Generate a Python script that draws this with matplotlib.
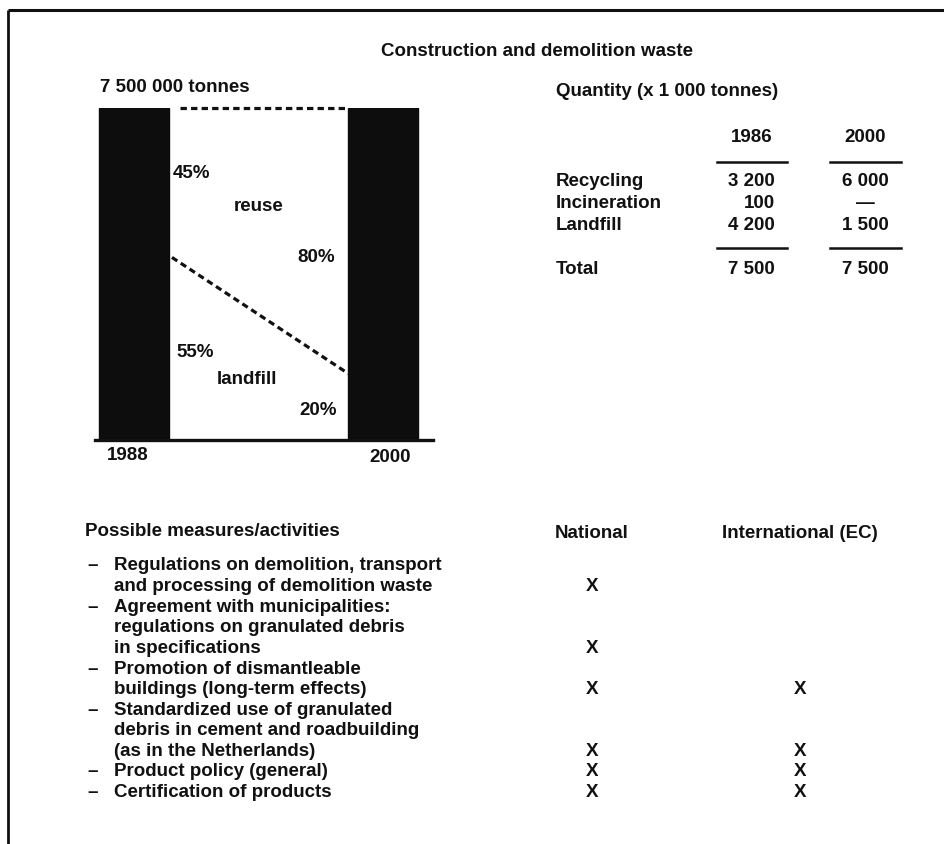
"""Construction and demolition waste: scanned report figure recreated."""
import matplotlib
matplotlib.use("Agg")
import matplotlib.pyplot as plt

plt.rcParams["font.family"] = ["Liberation Sans", "DejaVu Sans"]
plt.rcParams["font.size"] = 13.5
plt.rcParams["font.weight"] = "bold"

# --- data -----------------------------------------------------------------
years = ["1988", "2000"]
reuse_pct = [45, 80]
landfill_pct = [55, 20]
total_label = "7 500 000 tonnes"

table_years = ["1986", "2000"]
table_rows = ["Recycling", "Incineration", "Landfill"]
table_1986 = ["3 200", "100", "4 200"]
table_2000 = ["6 000", "\u2014", "1 500"]
table_total = ["7 500", "7 500"]

measures = [
    ["Regulations on demolition, transport", "and processing of demolition waste"],
    ["Agreement with municipalities:", "regulations on granulated debris", "in specifications"],
    ["Promotion of dismantleable", "buildings (long-term effects)"],
    ["Standardized use of granulated", "debris in cement and roadbuilding",
     "(as in the Netherlands)"],
    ["Product policy (general)"],
    ["Certification of products"],
]
national = [True, True, True, True, True, True]
international = [False, False, True, True, True, True]

W, H = 944, 844
fig = plt.figure(figsize=(W / 100, H / 100), dpi=100)
fig.patch.set_facecolor("white")

# page axes in pixel coordinates for the text blocks
page = fig.add_axes([0, 0, 1, 1])
page.set_xlim(0, W)
page.set_ylim(H, 0)
page.axis("off")

ink = "#111111"

# frame (top and left edges visible in the scan)
page.plot([8, W], [10, 10], color=ink, lw=2.2, solid_capstyle="butt")
page.plot([8, 8], [10, H], color=ink, lw=2.0, solid_capstyle="butt")

page.text(537, 52, "Construction and demolition waste", ha="center", va="center", color=ink)
page.text(100, 88, total_label, ha="left", va="center", color=ink)

# --- bar chart ------------------------------------------------------------
x0, x1, ytop, ybot = 95, 433, 108, 440
ax = fig.add_axes([x0 / W, (H - ybot) / H, (x1 - x0) / W, (ybot - ytop) / H])
xs = [0, 1]
width = 0.28
totals = [r + l for r, l in zip(reuse_pct, landfill_pct)]
ax.bar(xs, totals, width=width, color="#0d0d0d", edgecolor="#0d0d0d")
ax.set_xlim(-0.157, 1.20)
ax.set_ylim(0, 100)
for s in ["top", "left", "right"]:
    ax.spines[s].set_visible(False)
ax.spines["bottom"].set_linewidth(2.4)
ax.spines["bottom"].set_color(ink)
ax.set_xticks([])
ax.set_yticks([])
ax.patch.set_alpha(0)

right_a = xs[0] + width / 2
left_b = xs[1] - width / 2
dash = (0, (2.0, 1.3))
ax.plot([right_a + 0.045, left_b - 0.015], [totals[0], totals[1]],
        color=ink, lw=2.3, linestyle=dash, clip_on=False)
ax.plot([right_a + 0.012, left_b], [landfill_pct[0], landfill_pct[1]],
        color=ink, lw=2.3, linestyle=dash, clip_on=False)

ax.text(0.157, 80.4, f"{reuse_pct[0]}%", ha="left", va="center", color=ink)
ax.text(0.498, 70.2, "reuse", ha="center", va="center", color=ink)
ax.text(0.655, 55.1, f"{reuse_pct[1]}%", ha="left", va="center", color=ink)
ax.text(0.169, 26.5, f"{landfill_pct[0]}%", ha="left", va="center", color=ink)
ax.text(0.333, 18.1, "landfill", ha="left", va="center", color=ink)
ax.text(0.663, 9.0, f"{landfill_pct[1]}%", ha="left", va="center", color=ink)
ax.text(-0.024, -4.6, years[0], ha="center", va="center", color=ink, clip_on=False)
ax.text(1.028, -5.2, years[1], ha="center", va="center", color=ink, clip_on=False)

# --- quantity table -------------------------------------------------------
page.text(556, 92, "Quantity (x 1 000 tonnes)", ha="left", va="center", color=ink)
col_c = [752, 865]
col_r = 775
page.text(col_c[0], 138, table_years[0], ha="center", va="center", color=ink)
page.text(col_c[1], 138, table_years[1], ha="center", va="center", color=ink)
for yl in [162, 248]:
    page.plot([717, 787], [yl, yl], color=ink, lw=1.8)
    page.plot([830, 901], [yl, yl], color=ink, lw=1.8)
row_y = [182, 204, 226]
for lab, a, b, y in zip(table_rows, table_1986, table_2000, row_y):
    page.text(556, y, lab, ha="left", va="center", color=ink)
    page.text(col_r, y, a, ha="right", va="center", color=ink)
    page.text(col_c[1], y, b, ha="center", va="center", color=ink)
page.text(556, 270, "Total", ha="left", va="center", color=ink)
page.text(col_r, 270, table_total[0], ha="right", va="center", color=ink)
page.text(col_c[1], 270, table_total[1], ha="center", va="center", color=ink)

# --- measures list --------------------------------------------------------
page.text(85, 532, "Possible measures/activities", ha="left", va="center", color=ink)
page.text(592, 534, "National", ha="center", va="center", color=ink)
page.text(800, 534, "International (EC)", ha="center", va="center", color=ink)

y = 566
step = 20.6
for lines, nat, intl in zip(measures, national, international):
    page.text(87, y, "\u2013", ha="left", va="center", color=ink)
    for i, ln in enumerate(lines):
        page.text(114, y + i * step, ln, ha="left", va="center", color=ink)
    ylast = y + (len(lines) - 1) * step
    if nat:
        page.text(592, ylast, "X", ha="center", va="center", color=ink)
    if intl:
        page.text(800, ylast, "X", ha="center", va="center", color=ink)
    y += len(lines) * step

fig.savefig("out.png", dpi=100)
